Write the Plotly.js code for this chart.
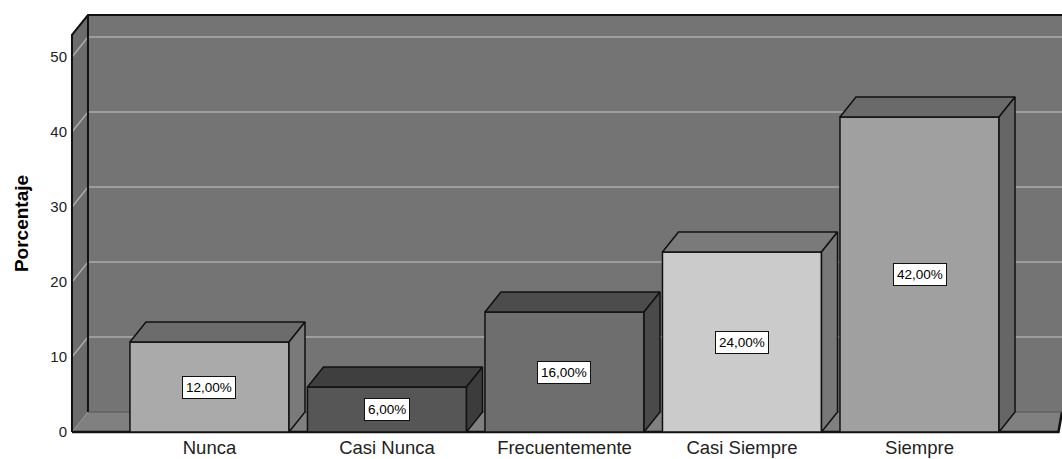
<!DOCTYPE html>
<html>
<head>
<meta charset="utf-8">
<script src="https://cdn.plot.ly/plotly-3.0.1.min.js"></script>
<style>html,body{margin:0;padding:0;background:#fff;}#chart{width:1062px;height:459px;}</style>
</head>
<body>
<div id="chart"></div>
<script>
// ---- data ----
const categories = ["Nunca", "Casi Nunca", "Frecuentemente", "Casi Siempre", "Siempre"];
const percentages = [12, 6, 16, 24, 42];
const valueLabels = ["12,00%", "6,00%", "16,00%", "24,00%", "42,00%"];
const yTickValues = [0, 10, 20, 30, 40, 50];
const yTickLabels = ["0", "10", "20", "30", "40", "50"];

// ---- styles ----
const frontColors = ["#aaaaaa", "#565656", "#6e6e6e", "#cbcbcb", "#a0a0a0"];
const topColors   = ["#6c6c6c", "#3f3f3f", "#4c4c4c", "#7a7a7a", "#6a6a6a"];
const sideColors  = ["#7a7a7a", "#3c3c3c", "#4a4a4a", "#787878", "#666666"];
const FONT = "Arial, Liberation Sans, sans-serif";

// ---- geometry (axis units) ----
const X_LEFT = -0.797, X_RIGHT = 4.8028;   // axis range
const XF = -0.7746;                         // front wall x
const DX = 0.0901, DY = 2.667;              // 3D depth offset
const Y_MIN = -0.267, Y_MAX = 55.87;
const BACK_TOP = 55.6, FRONT_TOP = 52.95;
const BW = 0.896;                           // bar width

const traces = [];
traces.push({
  type: "bar", x: categories.map((c, i) => i), y: percentages, width: BW,
  marker: {color: frontColors, line: {color: "#111", width: 1.5}},
  hoverinfo: "skip", showlegend: false
});
percentages.forEach((v, i) => {
  const l = i - BW / 2, r = i + BW / 2;
  traces.push({
    type: "scatter", mode: "lines", fill: "toself", fillcolor: topColors[i],
    x: [l, r, r + DX, l + DX, l], y: [v, v, v + DY, v + DY, v],
    line: {color: "#111", width: 1.5}, hoverinfo: "skip", showlegend: false
  });
  traces.push({
    type: "scatter", mode: "lines", fill: "toself", fillcolor: sideColors[i],
    x: [r, r + DX, r + DX, r, r], y: [0, DY, v + DY, v, 0],
    line: {color: "#111", width: 1.5}, hoverinfo: "skip", showlegend: false
  });
});

const shapes = [];
// back wall
shapes.push({type: "rect", layer: "below", xref: "x", yref: "y",
  x0: XF + DX, x1: X_RIGHT + 0.05, y0: DY, y1: BACK_TOP,
  fillcolor: "#747474", line: {width: 0}});
// left side wall
shapes.push({type: "path", layer: "below", xref: "x", yref: "y",
  path: `M ${XF},0 L ${XF + DX},${DY} L ${XF + DX},${BACK_TOP} L ${XF},${FRONT_TOP} Z`,
  fillcolor: "#6c6c6c", line: {width: 0}});
// floor
shapes.push({type: "path", layer: "below", xref: "x", yref: "y",
  path: `M ${XF},0 L ${X_RIGHT - 0.02},0 L ${X_RIGHT},${DY} L ${XF + DX},${DY} Z`,
  fillcolor: "#808080", line: {width: 0}});
// gridlines on side + back wall
yTickValues.filter(v => v > 0).forEach(v => {
  shapes.push({type: "path", layer: "below", xref: "x", yref: "y",
    path: `M ${XF},${v} L ${XF + DX},${v + DY} L ${X_RIGHT + 0.05},${v + DY}`,
    line: {color: "#ababab", width: 1.5}});
});
// frame edges
const edge = {color: "#111", width: 2};
shapes.push({type: "path", layer: "below", xref: "x", yref: "y",
  path: `M ${XF},0 L ${XF},${FRONT_TOP} L ${XF + DX},${BACK_TOP} L ${X_RIGHT + 0.05},${BACK_TOP}`,
  line: edge});
shapes.push({type: "path", layer: "below", xref: "x", yref: "y",
  path: `M ${XF + DX},${DY} L ${XF + DX},${BACK_TOP}`, line: edge});
shapes.push({type: "path", layer: "below", xref: "x", yref: "y",
  path: `M ${XF},0 L ${X_RIGHT - 0.02},0 L ${X_RIGHT},${DY}`, line: {color: "#111", width: 2.5}});
shapes.push({type: "path", layer: "below", xref: "x", yref: "y",
  path: `M ${XF + DX},${DY} L ${X_RIGHT + 0.05},${DY}`, line: {color: "#555", width: 1}});

const annotations = percentages.map((v, i) => ({
  x: i, y: v / 2, xref: "x", yref: "y", text: valueLabels[i], showarrow: false,
  bgcolor: "#ffffff", bordercolor: "#111", borderwidth: 1, borderpad: 3,
  font: {family: FONT, size: 13.5, color: "#000"}
}));

const layout = {
  width: 1062, height: 459,
  margin: {l: 68, r: 0, t: 13, b: 25, pad: 0},
  paper_bgcolor: "#ffffff", plot_bgcolor: "#ffffff",
  showlegend: false,
  xaxis: {
    range: [X_LEFT, X_RIGHT], tickvals: categories.map((c, i) => i), ticktext: categories,
    showgrid: false, zeroline: false, showline: false, ticks: "",
    ticklabelstandoff: 0,
    tickfont: {family: FONT, size: 18.5, color: "#222"},
    fixedrange: true
  },
  yaxis: {
    range: [Y_MIN, Y_MAX], tickvals: yTickValues, ticktext: yTickLabels,
    showgrid: false, zeroline: false, showline: false, ticks: "",
    ticklabelstandoff: 0,
    tickfont: {family: FONT, size: 15, color: "#222"},
    title: {text: "<b>Porcentaje</b>", standoff: 16,
      font: {family: FONT, size: 19, color: "#000"}},
    fixedrange: true
  },
  shapes: shapes,
  annotations: annotations
};

Plotly.newPlot("chart", traces, layout, {displayModeBar: false, staticPlot: true});
</script>
</body>
</html>
